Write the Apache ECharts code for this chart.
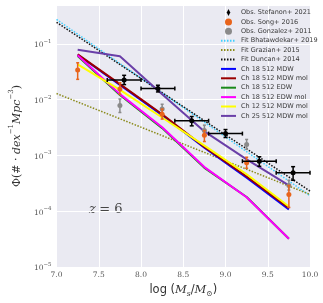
<!DOCTYPE html>
<html><head><meta charset="utf-8">
<script src="https://cdn.jsdelivr.net/npm/echarts@6/dist/echarts.min.js"></script>
<style>html,body{margin:0;padding:0;background:#fff}#c{width:323px;height:303px}</style>
</head><body><div id="c"></div>
<script>
// ---------- data ----------
const massBins = [7.25, 7.75, 8.25, 8.75, 9.25, 9.75];
const ch18MDW    = [0.064, 0.0185, 0.0053, 0.00138, 0.00040, 0.000108];
const ch18MDWmol = [0.065, 0.0190, 0.0055, 0.00142, 0.00042, 0.000115];
const ch18EDW    = [0.061, 0.0122, 0.0031, 0.00060, 0.000180, 0.000032];
const ch18EDWmol = [0.063, 0.0126, 0.0032, 0.00062, 0.000178, 0.000032];
const ch12MDWmol = [0.043, 0.0150, 0.0048, 0.00150, 0.00046, 0.000122];
const ch25MDWmol = [0.079, 0.0600, 0.0126, 0.00270, 0.00085, 0.00029];

const fitX = [7.0, 10.0];
const fitBhat = [0.275, 0.00019];
const fitGrazian = [0.0129, 0.00020];
const fitDuncan = [0.245, 0.00023];

const stefX = [7.8, 8.2, 8.6, 9.0, 9.4, 9.8];
const stefY = [0.0226, 0.0159, 0.0042, 0.00247, 0.00079, 0.00049];
const stefLo = [0.0187, 0.0138, 0.0034, 0.0021, 0.00064, 0.00036];
const stefHi = [0.0274, 0.0182, 0.0050, 0.00292, 0.00095, 0.00063];
const stefXlo = [7.6, 8.0, 8.4, 8.8, 9.2, 9.6];
const stefXhi = [8.0, 8.4, 8.8, 9.2, 9.6, 10.0];

const songX = [7.25, 7.75, 8.25, 8.75, 9.25, 9.75];
const songY = [0.034, 0.0155, 0.0055, 0.0023, 0.00074, 0.00020];
const songLo = [0.0232, 0.0126, 0.0045, 0.00178, 0.00059, 0.000117];
const songHi = [0.046, 0.0202, 0.0068, 0.0028, 0.00093, 0.00029];

const gonzX = [7.75, 8.25, 8.75, 9.25, 9.75];
const gonzY = [0.0079, 0.0068, 0.0028, 0.00158, 0.00029];
const gonzLo = [0.0059, 0.0055, 0.0023, 0.00129, 0.00024];
const gonzHi = [0.0103, 0.0083, 0.0035, 0.00194, 0.00036];

const xTicks = [7.0, 7.5, 8.0, 8.5, 9.0, 9.5, 10.0];

// ---------- helpers ----------
const pair = (xs, ys) => xs.map((x, i) => [x, ys[i]]);
function lineSeries(name, xs, ys, color, width, type, z) {
  return { name, type: 'line', data: pair(xs, ys), showSymbol: false, symbol: 'none',
    lineStyle: { color, width, type }, itemStyle: { color }, z: z || 2, silent: true, animation: false };
}
function errSeries(name, xs, ys, lo, hi, xlo, xhi, color, width, cap, z) {
  const data = xs.map((x, i) => [x, ys[i], lo[i], hi[i], xlo ? xlo[i] : x, xhi ? xhi[i] : x]);
  return {
    name, type: 'custom', data, z, silent: true, animation: false,
    encode: { x: [0, 4, 5], y: [1, 2, 3] },
    renderItem(params, api) {
      const x = api.value(0), y = api.value(1);
      const pl = api.coord([x, api.value(2)]), ph = api.coord([x, api.value(3)]);
      const st = { stroke: color, lineWidth: width };
      const ch = [
        { type: 'line', shape: { x1: pl[0], y1: pl[1], x2: ph[0], y2: ph[1] }, style: st },
        { type: 'line', shape: { x1: pl[0] - cap, y1: pl[1], x2: pl[0] + cap, y2: pl[1] }, style: st },
        { type: 'line', shape: { x1: ph[0] - cap, y1: ph[1], x2: ph[0] + cap, y2: ph[1] }, style: st }
      ];
      if (api.value(4) !== x) {
        const a = api.coord([api.value(4), y]), b = api.coord([api.value(5), y]);
        ch.push({ type: 'line', shape: { x1: a[0], y1: a[1], x2: b[0], y2: b[1] }, style: st });
        ch.push({ type: 'line', shape: { x1: a[0], y1: a[1] - cap, x2: a[0], y2: a[1] + cap }, style: st });
        ch.push({ type: 'line', shape: { x1: b[0], y1: b[1] - cap, x2: b[0], y2: b[1] + cap }, style: st });
      }
      return { type: 'group', children: ch };
    }
  };
}
function scatterSeries(name, xs, ys, color, size, z) {
  return { name, type: 'scatter', data: pair(xs, ys), symbol: 'circle', symbolSize: size,
    itemStyle: { color, opacity: 1 }, z, silent: true, animation: false };
}

const cBhat = '#3fcfff', cGraz = '#8a8a1a', cDunc = '#111111';
const cOrange = '#e8641c', cGray = '#8a8a8a';
const serif = 'DejaVu Serif';

const supers = { '-1': '−1', '-2': '−2', '-3': '−3', '-4': '−4', '-5': '−5' };
const hideSym = { color: 'rgba(0,0,0,0)', borderWidth: 0, opacity: 0 };
const lineLegend = n => ({ name: n, itemStyle: hideSym });

const chart = echarts.init(document.getElementById('c'), null, { renderer: 'canvas' });
chart.setOption({
  animation: false,
  backgroundColor: '#ffffff',
  grid: { left: 43, right: 13, top: 5, bottom: 34, show: true, backgroundColor: '#EAEAF2', borderWidth: 0 },
  xAxis: {
    type: 'value', min: 7.0, max: 10.0, interval: 0.5,
    axisLine: { show: false }, axisTick: { show: false },
    splitLine: { show: true, lineStyle: { color: '#ffffff', width: 1 } },
    axisLabel: { color: '#555', fontFamily: serif, fontSize: 7.5, margin: 4,
      formatter: v => { const t = xTicks.find(k => Math.abs(k - v) < 1e-6); return t === undefined ? '' : t.toFixed(1); } },
    name: '{n|log (}{i|M}{sub|s}{n|/}{i|M}{sub|⊙}{n|)}',
    nameLocation: 'middle', nameGap: 15,
    nameTextStyle: { rich: {
      n: { fontFamily: 'DejaVu Sans', fontSize: 11.5, color: '#333', lineHeight: 16 },
      i: { fontFamily: serif, fontStyle: 'italic', fontSize: 11.5, color: '#333', lineHeight: 16 },
      sub: { fontFamily: serif, fontStyle: 'italic', fontSize: 7.5, color: '#333', lineHeight: 16, verticalAlign: 'bottom' }
    } }
  },
  yAxis: {
    type: 'log', logBase: 10, min: 1e-5, max: 0.5,
    axisLine: { show: false }, axisTick: { show: false },
    splitLine: { show: true, lineStyle: { color: '#ffffff', width: 1 } },
    axisLabel: { color: '#555', margin: 5, showMaxLabel: false,
      formatter: v => { const e = Math.log10(v); const r = Math.round(e);
        if (Math.abs(e - r) > 1e-6) return ''; return '{b|10}{s|' + (supers[r] || r) + '}'; },
      rich: {
        b: { fontFamily: serif, fontSize: 7.5, color: '#555', lineHeight: 11, verticalAlign: 'bottom' },
        s: { fontFamily: serif, fontSize: 5.5, color: '#555', lineHeight: 11, verticalAlign: 'top' }
      } },
    name: '{n|Φ(# · }{i|dex}{s|−1}{i|Mpc}{s|−3}{n|)}',
    nameLocation: 'middle', nameGap: 30, nameRotate: 90,
    nameTextStyle: { rich: {
      n: { fontFamily: serif, fontSize: 11, color: '#333', lineHeight: 15, verticalAlign: 'bottom' },
      i: { fontFamily: serif, fontStyle: 'italic', fontSize: 11, color: '#333', lineHeight: 15, verticalAlign: 'bottom' },
      s: { fontFamily: serif, fontSize: 7, color: '#333', lineHeight: 15, verticalAlign: 'top' }
    } }
  },
  legend: {
    orient: 'vertical', left: 220, top: 9, padding: 0,
    itemWidth: 15, itemHeight: 7, itemGap: 2.4,
    textStyle: { fontFamily: 'DejaVu Sans', fontSize: 6.5, color: '#3a3a3a', lineHeight: 7 },
    selectedMode: false,
    data: [
      { name: 'Obs. Stefanon+ 2021', icon: 'path://M2,0 L4,4 L2,8 L0,4 Z', itemStyle: { color: '#000' } },
      { name: 'Obs. Song+ 2016', icon: 'circle' },
      { name: 'Obs. Gonzalez+ 2011', icon: 'circle' },
      lineLegend('Fit Bhatawdekar+ 2019'), lineLegend('Fit Grazian+ 2015'), lineLegend('Fit Duncan+ 2014'),
      lineLegend('Ch 18 512 MDW'), lineLegend('Ch 18 512 MDW mol'), lineLegend('Ch 18 512 EDW'),
      lineLegend('Ch 18 512 EDW mol'), lineLegend('Ch 12 512 MDW mol'), lineLegend('Ch 25 512 MDW mol')
    ]
  },
  graphic: [{
    type: 'text', left: 89, top: 203, silent: true,
    style: { text: '{i|z} {n|= 6}', rich: {
      i: { fontFamily: serif, fontStyle: 'italic', fontSize: 13, fill: '#444' },
      n: { fontFamily: serif, fontSize: 13, fill: '#444' } } }
  }],
  series: [
    lineSeries('Fit Bhatawdekar+ 2019', fitX, fitBhat, cBhat, 1.5, [1.5, 1.5], 3),
    lineSeries('Fit Grazian+ 2015', fitX, fitGrazian, cGraz, 1.5, [1.5, 1.5], 3),
    lineSeries('Fit Duncan+ 2014', fitX, fitDuncan, cDunc, 1.5, [1.5, 1.5], 3),
    lineSeries('Ch 18 512 MDW', massBins, ch18MDW, '#0000ff', 2, 'solid', 4),
    lineSeries('Ch 18 512 MDW mol', massBins, ch18MDWmol, '#9a0000', 2, 'solid', 5),
    lineSeries('Ch 18 512 EDW', massBins, ch18EDW, '#1a8a1a', 2, 'solid', 4),
    lineSeries('Ch 18 512 EDW mol', massBins, ch18EDWmol, '#ff00ff', 2, 'solid', 5),
    lineSeries('Ch 12 512 MDW mol', massBins, ch12MDWmol, '#ffff00', 2, 'solid', 6),
    lineSeries('Ch 25 512 MDW mol', massBins, ch25MDWmol, '#6a3fa8', 2, 'solid', 6),
    errSeries('errGonz', gonzX, gonzY, gonzLo, gonzHi, null, null, cGray, 1.5, 1.5, 10),
    scatterSeries('Obs. Gonzalez+ 2011', gonzX, gonzY, cGray, 5, 11),
    errSeries('errSong', songX, songY, songLo, songHi, null, null, cOrange, 1.5, 1.5, 12),
    scatterSeries('Obs. Song+ 2016', songX, songY, cOrange, 5, 13),
    errSeries('errStef', stefX, stefY, stefLo, stefHi, stefXlo, stefXhi, '#000', 1.5, 2, 14),
    scatterSeries('Obs. Stefanon+ 2021', stefX, stefY, '#000', 5, 15)
  ]
});
</script>
</body></html>
